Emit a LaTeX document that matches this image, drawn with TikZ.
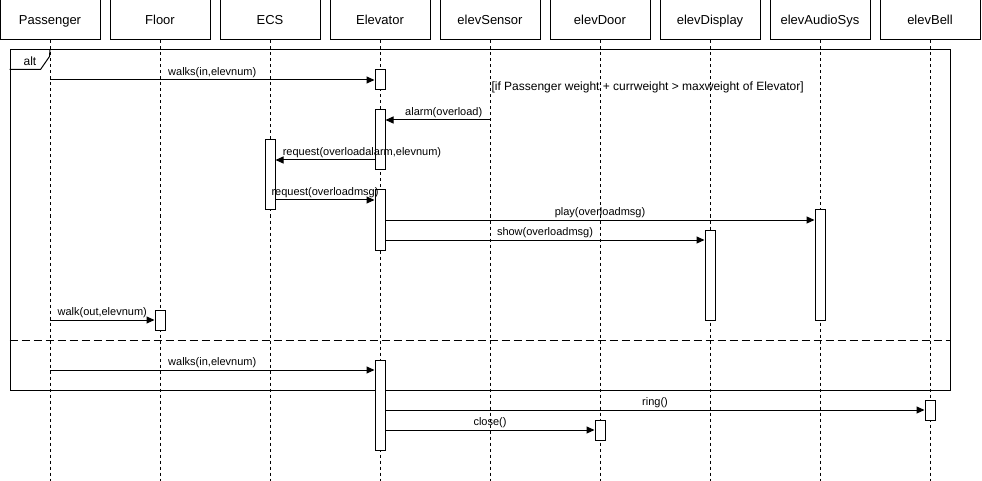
\documentclass[tikz,border=0pt]{standalone}
\usepackage{fontspec}
\setmainfont{Liberation Sans}
\usetikzlibrary{arrows.meta}

\begin{document}
\begin{tikzpicture}[x=1pt, y=-1pt, line width=1pt,
        head/.style={draw, minimum width=100pt, minimum height=40pt, text height=10pt, text depth=0pt, font=\fontsize{13}{15}\selectfont},
        life/.style={dash pattern=on 3pt off 3pt},
        act/.style={draw, fill=white, minimum width=10pt, inner sep=0pt},
        msg/.style={-{Triangle[length=8pt,width=7pt]}},
        lbl/.style={font=\fontsize{11}{13}\selectfont, inner sep=0pt}]
        \useasboundingbox (0,0) rectangle (982,481);
        \coordinate (bot) at (0,481);

        \node[head] at (50, 20)   (pass)  {Passenger};
        \node[head] at (160, 20)  (floor) {Floor};
        \node[head] at (270, 20)  (ecs)   {ECS};
        \node[head] at (380, 20)  (elev)  {Elevator};
        \node[head] at (490, 20)  (sens)  {elevSensor};
        \node[head] at (600, 20)  (door)  {elevDoor};
        \node[head] at (710, 20)  (disp)  {elevDisplay};
        \node[head] at (820, 20)  (audio) {elevAudioSys};
        \node[head] at (930, 20)  (bell)  {elevBell};

        \draw[life] (pass) -- (pass |- bot);
        \draw[life] (floor) -- (floor |- bot);
        \draw[life] (ecs) -- (ecs |- bot);
        \draw[life] (elev) -- (elev |- bot);
        \draw[life] (sens) -- (sens |- bot);
        \draw[life] (door) -- (door |- bot);
        \draw[life] (disp) -- (disp |- bot);
        \draw[life] (audio) -- (audio |- bot);
        \draw[life] (bell) -- (bell |- bot);

        \node[draw, minimum width=940pt, minimum height=340pt, inner sep=0pt] at (480, 220) (altfrm) {};
        \draw (altfrm.north west) ++(0,20) coordinate (t1) -- ++(31,0) -- ++(9,-13) -- (altfrm.north west -| pass);
        \node[lbl, font=\fontsize{12}{14}\selectfont] at (30, 61) (altlbl) {alt};
        \coordinate (sep) at (0, 340);
        \draw[dash pattern=on 8pt off 4pt] (altfrm.west |- sep) -- (altfrm.east |- sep);
        \node[lbl, anchor=west, font=\fontsize{12}{14}\selectfont] at (491, 87) (cond) {[if Passenger weight + currweight > maxweight of Elevator]};

        \node[act, minimum height=20pt] at (380, 80)  (e1) {};
        \node[act, minimum height=60pt] at (380, 140) (e2) {};
        \node[act, minimum height=70pt] at (270, 175) (c1) {};
        \node[act, minimum height=60pt] at (380, 220) (e3) {};
        \node[act, minimum height=110pt] at (820, 265) (a1) {};
        \node[act, minimum height=90pt] at (710, 275) (d1) {};
        \node[act, minimum height=20pt] at (160, 320) (f1) {};
        \node[act, minimum height=90pt] at (380, 405) (e4) {};
        \node[act, minimum height=20pt] at (930, 410) (b1) {};
        \node[act, minimum height=20pt] at (600, 430) (o1) {};

        \coordinate (m2) at (0, 120);
        \coordinate (m3) at (0, 160);
        \coordinate (m4) at (0, 200);
        \coordinate (m5) at (0, 220);
        \coordinate (m6) at (0, 240);
        \coordinate (m8) at (0, 370);

        \draw[msg] (pass |- e1) -- node[lbl, above=2pt] {walks(in,elevnum)} (e1.west);
        \draw[msg] (sens |- m2) -- node[lbl, above=2pt, xshift=6pt] {alarm(overload)} (e2.east |- m2);
        \draw[msg] (e2.west |- m3) -- node[lbl, above=2pt, xshift=37pt] {request(overloadalarm,elevnum)} (c1.east |- m3);
        \draw[msg] (c1.east |- m4) -- node[lbl, above=2pt] {request(overloadmsg)} (e3.west |- m4);
        \draw[msg] (e3.east |- m5) -- node[lbl, above=2pt] {play(overloadmsg)} (a1.west |- m5);
        \draw[msg] (e3.east |- m6) -- node[lbl, above=2pt] {show(overloadmsg)} (d1.west |- m6);
        \draw[msg] (pass |- f1) -- node[lbl, above=2pt] {walk(out,elevnum)} (f1.west);
        \draw[msg] (pass |- m8) -- node[lbl, above=2pt] {walks(in,elevnum)} (e4.west |- m8);
        \draw[msg] (e4.east |- b1) -- node[lbl, above=2pt] {ring()} (b1.west);
        \draw[msg] (e4.east |- o1) -- node[lbl, above=2pt] {close()} (o1.west);
    \end{tikzpicture}
\end{document}
